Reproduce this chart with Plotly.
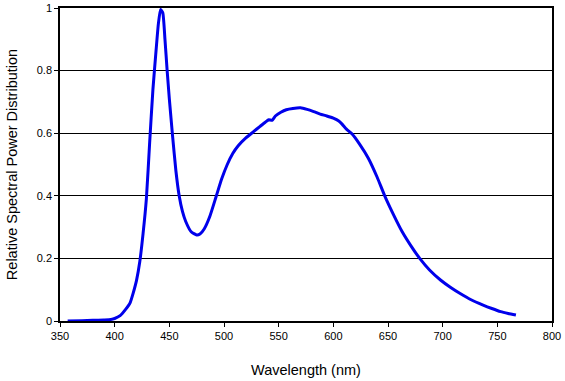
import plotly.graph_objects as go

wavelength = [357, 370, 380, 390, 395, 400, 405, 410, 414, 417, 420, 423, 426, 429,
              432, 435, 438, 440, 442, 444, 446, 448, 450, 453, 456, 459, 462, 465,
              470, 475, 478, 482, 487, 493, 498, 503, 508, 513, 520, 527, 533, 538,
              541, 544, 547, 552, 557, 563, 570, 576, 582, 588, 594, 600, 605, 608,
              612, 617, 624, 632, 640, 647, 655, 663, 671, 679, 688, 698, 707, 716,
              726, 737, 745, 753, 760, 767]
power = [0.0, 0.001, 0.002, 0.003, 0.004, 0.008, 0.017, 0.037, 0.057, 0.09, 0.13, 0.19,
         0.28, 0.39, 0.57, 0.74, 0.87, 0.95, 0.995, 0.985, 0.90, 0.80, 0.71, 0.59, 0.48,
         0.40, 0.35, 0.318, 0.285, 0.275, 0.278, 0.295, 0.334, 0.40, 0.455, 0.50, 0.535,
         0.56, 0.585, 0.605, 0.622, 0.636, 0.643, 0.641, 0.655, 0.667, 0.675, 0.679,
         0.681, 0.676, 0.669, 0.661, 0.655, 0.648, 0.639, 0.629, 0.613, 0.598, 0.565,
         0.52, 0.46, 0.40, 0.34, 0.285, 0.24, 0.20, 0.163, 0.131, 0.108, 0.088, 0.068,
         0.051, 0.04, 0.03, 0.024, 0.019]

x_ticks = [350, 400, 450, 500, 550, 600, 650, 700, 750, 800]
y_ticks = [0, 0.2, 0.4, 0.6, 0.8, 1]
y_tick_labels = ["0", "0.2", "0.4", "0.6", "0.8", "1"]

fig = go.Figure()
fig.add_trace(go.Scatter(x=wavelength, y=power, mode="lines",
                         line=dict(color="rgb(0,0,235)", width=3, shape="spline", smoothing=0.5),
                         showlegend=False, hoverinfo="skip", cliponaxis=False))

font = "Liberation Sans, Arial, sans-serif"
fig.update_layout(
    width=565, height=381,
    margin=dict(l=60, r=13, t=8, b=60),
    paper_bgcolor="white", plot_bgcolor="white",
    font=dict(family=font, size=11, color="black"),
    xaxis=dict(range=[350, 800], tickvals=x_ticks, ticks="outside", ticklen=4,
               tickcolor="black", showline=True, linecolor="black", linewidth=1.5,
               mirror=True, showgrid=False, zeroline=False, automargin=False,
               title=dict(text="Wavelength (nm)", font=dict(size=14.5, family=font), standoff=24)),
    yaxis=dict(range=[0, 1], tickvals=y_ticks, ticktext=y_tick_labels, ticks="outside",
               ticklen=4, tickcolor="black", showline=True, linecolor="black", linewidth=1.5,
               mirror=True, showgrid=True, gridcolor="black", gridwidth=1, zeroline=False,
               automargin=False,
               title=dict(text="Relative Spectral Power Distribution",
                          font=dict(size=14.5, family=font), standoff=16)),
)

fig.write_html("out.html", config={"displayModeBar": False},
               post_script="document.body.style.margin='0';")
